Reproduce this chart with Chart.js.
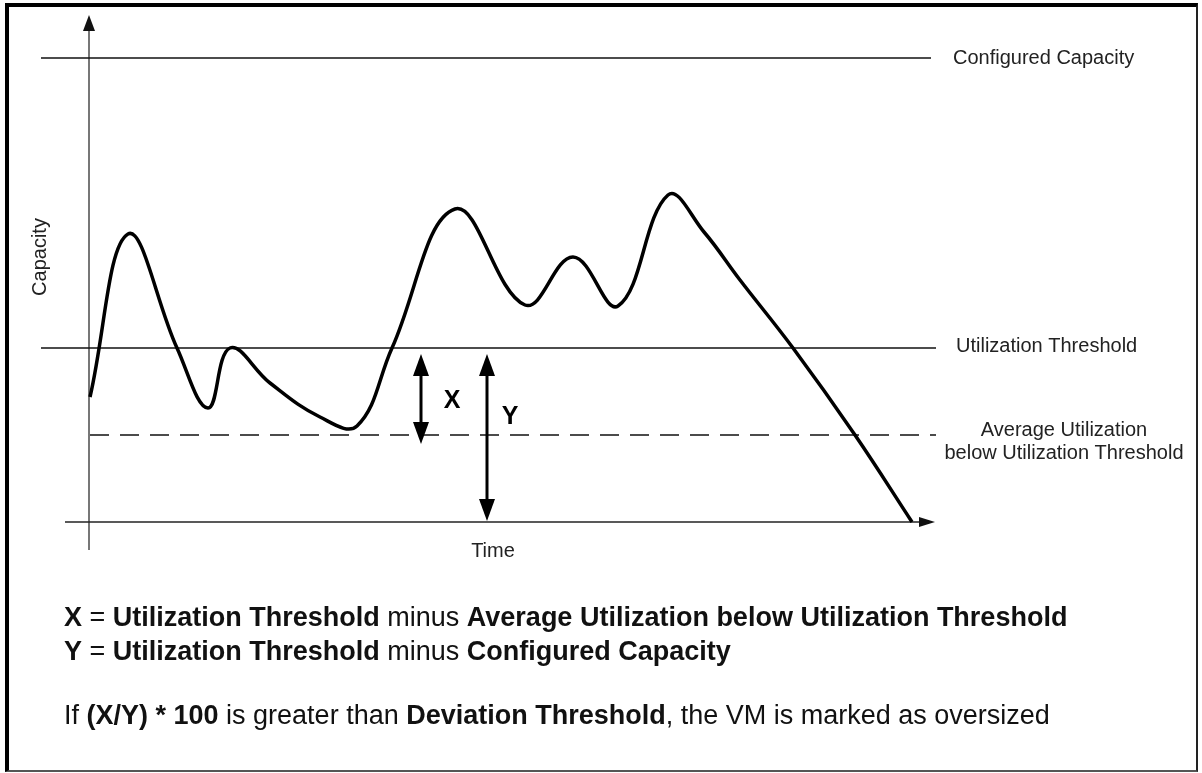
<!DOCTYPE html>
<html>
<head>
<meta charset="utf-8">
<script src="https://cdn.jsdelivr.net/npm/chart.js@4.4.1/dist/chart.umd.min.js"></script>
<style>
    body { margin: 0; background: #fff; font-family: "Liberation Sans", Arial, sans-serif; }
    #wrap { position: absolute; left: 0; top: 0; width: 1202px; height: 773px; }
    #frame {
        position: absolute; left: 5px; top: 3px; width: 1187px; height: 763px;
        border-left: 4px solid #000; border-top: 4px solid #000;
        border-right: 2px solid #222; border-bottom: 2px solid #555;
        pointer-events: none;
    }
    .note { position: absolute; left: 64px; font-size: 27px; line-height: 34px; color: #111; white-space: nowrap; }
    .note b { font-weight: bold; }
</style>
</head>
<body>
<div id="wrap"><canvas id="capacityChart"></canvas></div>
<div id="frame"></div>
<div class="note" style="top:600px"><b>X</b> = <b>Utilization Threshold</b> minus <b>Average Utilization below Utilization Threshold</b></div>
<div class="note" style="top:634px"><b>Y</b> = <b>Utilization Threshold</b> minus <b>Configured Capacity</b></div>
<div class="note" style="top:698px">If <b>(X/Y) * 100</b> is greater than <b>Deviation Threshold</b>, the VM is marked as oversized</div>
<script>
// utilization curve (time, capacity)
const usageTime = [0.1, 3.9, 8.8, 11.9, 14.1, 18.1, 23.1, 26.8, 30.3, 36.6, 43.6, 48.4, 52.9, 57.9, 61.5, 65.1, 70.4, 76.6, 82.3];
const usageCapacity = [12.5, 28.8, 17.4, 11.4, 17.4, 13.9, 10.5, 9.6, 17.4, 31.3, 21.7, 26.5, 21.6, 32.7, 29.0, 24.2, 17.4, 8.7, 0.0];

// reference levels
const configuredCapacity = 46.4;
const utilizationThreshold = 17.4;
const averageBelowThreshold = 8.7;
const levelStart = [-4.8, -4.8, 0.1];
const levelEnd = [84.2, 84.7, 84.7];
const levelLabels = ['Configured Capacity', 'Utilization Threshold', ['Average Utilization', 'below Utilization Threshold']];

// axes and the X / Y measuring arrows
const xAxisRange = [-2.4, 84.6];
const yAxisRange = [-2.8, 50.7];
const gapX = { time: 33.2, from: 16.8, to: 7.8 };
const gapY = { time: 39.8, from: 16.8, to: 0.1 };

const levels = [configuredCapacity, utilizationThreshold, averageBelowThreshold];

function arrowHead(ctx, tx, ty, dx, dy, len, half) {
    const bx = tx - dx * len, by = ty - dy * len;
    ctx.beginPath();
    ctx.moveTo(tx, ty);
    ctx.lineTo(bx - dy * half, by + dx * half);
    ctx.lineTo(bx + dy * half, by - dx * half);
    ctx.closePath();
    ctx.fill();
}

const diagramPlugin = {
    id: 'diagram',
    beforeDatasetsDraw(chart) {
        const { ctx, scales: { x, y } } = chart;
        ctx.save();
        // y axis
        const ox = x.getPixelForValue(0), oy = y.getPixelForValue(0);
        ctx.strokeStyle = '#777';
        ctx.fillStyle = '#111';
        ctx.lineWidth = 2;
        ctx.beginPath();
        ctx.moveTo(ox, y.getPixelForValue(yAxisRange[0]));
        ctx.lineTo(ox, y.getPixelForValue(yAxisRange[1]) + 10);
        ctx.stroke();
        arrowHead(ctx, ox, y.getPixelForValue(yAxisRange[1]), 0, -1, 16, 6);
        // x axis
        ctx.strokeStyle = '#222';
        ctx.lineWidth = 1.5;
        ctx.beginPath();
        ctx.moveTo(x.getPixelForValue(xAxisRange[0]), oy);
        ctx.lineTo(x.getPixelForValue(xAxisRange[1]) - 10, oy);
        ctx.stroke();
        arrowHead(ctx, x.getPixelForValue(xAxisRange[1]), oy, 1, 0, 16, 5);
        ctx.restore();
    },
    afterDatasetsDraw(chart) {
        const { ctx, scales: { x, y } } = chart;
        ctx.save();
        ctx.strokeStyle = '#000';
        ctx.fillStyle = '#000';
        ctx.lineWidth = 3;
        [gapX, gapY].forEach(g => {
            const px = x.getPixelForValue(g.time);
            const top = y.getPixelForValue(g.from), bot = y.getPixelForValue(g.to);
            ctx.beginPath();
            ctx.moveTo(px, top + 15);
            ctx.lineTo(px, bot - 15);
            ctx.stroke();
            arrowHead(ctx, px, top, 0, -1, 22, 8);
            arrowHead(ctx, px, bot, 0, 1, 22, 8);
        });
        ctx.font = 'bold 25px "Liberation Sans", Arial, sans-serif';
        ctx.textAlign = 'center';
        ctx.textBaseline = 'middle';
        ctx.fillText('X', x.getPixelForValue(36.3), y.getPixelForValue(12.1));
        ctx.fillText('Y', x.getPixelForValue(42.1), y.getPixelForValue(10.5));

        // level labels
        ctx.fillStyle = '#222';
        ctx.font = '20px "Liberation Sans", Arial, sans-serif';
        ctx.textAlign = 'left';
        ctx.fillText(levelLabels[0], x.getPixelForValue(86.4), y.getPixelForValue(configuredCapacity));
        ctx.fillText(levelLabels[1], x.getPixelForValue(86.7), y.getPixelForValue(utilizationThreshold) - 2);
        ctx.textAlign = 'center';
        const ay = y.getPixelForValue(averageBelowThreshold);
        ctx.fillText(levelLabels[2][0], x.getPixelForValue(97.5), ay - 5);
        ctx.fillText(levelLabels[2][1], x.getPixelForValue(97.5), ay + 18);

        // axis titles
        ctx.fillText('Time', x.getPixelForValue(40.4), y.getPixelForValue(-2.9));
        ctx.translate(x.getPixelForValue(-4.9), y.getPixelForValue(26.5));
        ctx.rotate(-Math.PI / 2);
        ctx.fillText('Capacity', 0, 0);
        ctx.restore();
    }
};

const levelSets = levels.map((v, i) => ({
    data: [{ x: levelStart[i], y: v }, { x: levelEnd[i], y: v }],
    borderColor: '#111',
    borderWidth: 1.3,
    borderDash: i === 2 ? [19, 11] : [],
    pointRadius: 0,
    order: 2,
}));

new Chart(document.getElementById('capacityChart'), {
    type: 'line',
    data: {
        datasets: [
            {
                label: 'Utilization',
                data: usageTime.map((t, i) => ({ x: t, y: usageCapacity[i] })),
                borderColor: '#000',
                borderWidth: 3.5,
                tension: 0.4,
                pointRadius: 0,
                fill: false,
                order: 1,
            },
            ...levelSets,
        ],
    },
    options: {
        responsive: true,
        maintainAspectRatio: false,
        animation: false,
        events: [],
        layout: { padding: 0 },
        plugins: { legend: { display: false }, tooltip: { enabled: false } },
        scales: {
            x: { type: 'linear', min: -8.9, max: 111.3, display: false },
            y: { type: 'linear', min: -25.1, max: 52.2, display: false },
        },
    },
    plugins: [diagramPlugin],
});
</script>
</body>
</html>
